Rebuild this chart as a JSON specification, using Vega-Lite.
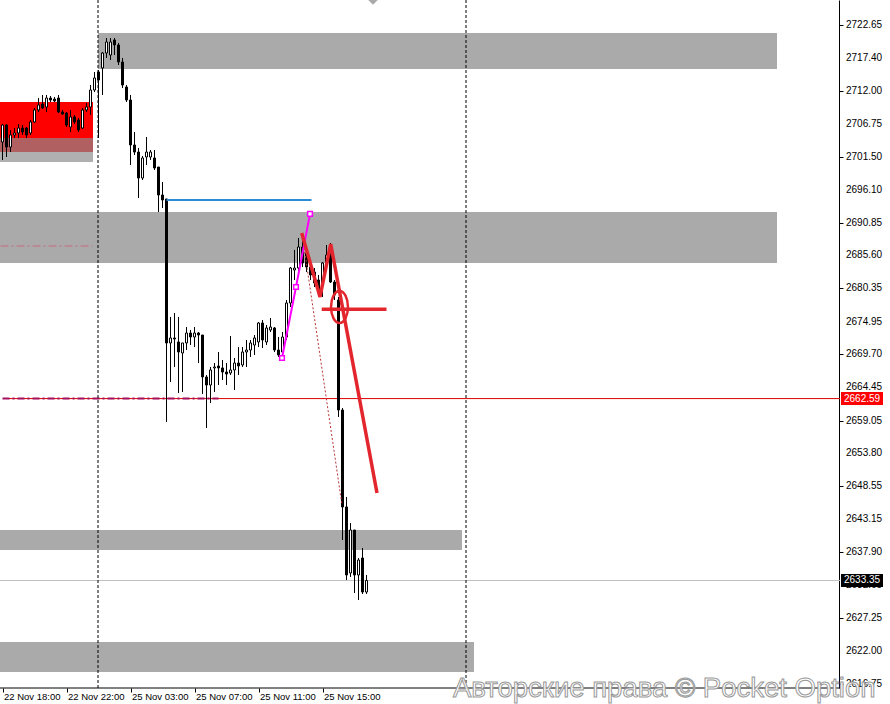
{
"$schema": "https://vega.github.io/schema/vega-lite/v6.json",
"width": 890, "height": 688, "padding": {"left":0,"top":0,"right":0,"bottom":16}, "autosize": {"type": "none"},
"background": "white",
"config": {"view": {"stroke": null}, "font": "Liberation Sans", "axis": {"labelOverlap": false}},
"resolve": {"scale": {"color": "independent"}},
"datasets": {
"candles": [
{"i":0,"o":2703.84,"h":2706.73,"l":2700.95,"c":2706.57},
{"i":1,"o":2706.57,"h":2706.73,"l":2701.43,"c":2703.04},
{"i":2,"o":2703.04,"h":2705.77,"l":2702.23,"c":2704.97},
{"i":3,"o":2704.97,"h":2706.09,"l":2704.48,"c":2705.29},
{"i":4,"o":2705.29,"h":2706.73,"l":2704.48,"c":2706.09},
{"i":5,"o":2706.09,"h":2706.57,"l":2704.97,"c":2705.45},
{"i":6,"o":2706.09,"h":2706.25,"l":2704.48,"c":2704.97},
{"i":7,"o":2705.29,"h":2707.38,"l":2704.97,"c":2707.06},
{"i":8,"o":2707.06,"h":2709.31,"l":2706.90,"c":2708.99},
{"i":9,"o":2708.99,"h":2710.91,"l":2708.66,"c":2709.79},
{"i":10,"o":2709.95,"h":2711.40,"l":2709.15,"c":2709.31},
{"i":11,"o":2709.47,"h":2711.40,"l":2708.66,"c":2710.91},
{"i":12,"o":2710.91,"h":2711.24,"l":2710.27,"c":2710.59},
{"i":13,"o":2710.75,"h":2711.08,"l":2710.27,"c":2710.43},
{"i":14,"o":2710.91,"h":2711.40,"l":2708.50,"c":2708.66},
{"i":15,"o":2708.66,"h":2708.99,"l":2708.18,"c":2708.34},
{"i":16,"o":2708.50,"h":2708.66,"l":2706.25,"c":2706.57},
{"i":17,"o":2706.25,"h":2708.99,"l":2705.45,"c":2707.86},
{"i":18,"o":2707.86,"h":2708.18,"l":2706.73,"c":2707.06},
{"i":19,"o":2707.38,"h":2707.70,"l":2705.45,"c":2705.77},
{"i":20,"o":2706.09,"h":2709.31,"l":2705.93,"c":2708.99},
{"i":21,"o":2708.99,"h":2710.11,"l":2708.66,"c":2709.47},
{"i":22,"o":2709.47,"h":2713.00,"l":2708.18,"c":2712.20},
{"i":23,"o":2712.20,"h":2715.09,"l":2711.88,"c":2714.13},
{"i":24,"o":2715.09,"h":2715.42,"l":2704.48,"c":2713.81},
{"i":25,"o":2715.74,"h":2718.31,"l":2711.40,"c":2718.15},
{"i":26,"o":2718.15,"h":2720.56,"l":2717.35,"c":2719.92},
{"i":27,"o":2717.83,"h":2720.56,"l":2717.02,"c":2719.92},
{"i":28,"o":2720.24,"h":2720.56,"l":2717.83,"c":2719.44},
{"i":29,"o":2719.44,"h":2719.76,"l":2716.22,"c":2716.70},
{"i":30,"o":2716.70,"h":2717.35,"l":2712.52,"c":2713.00},
{"i":31,"o":2712.68,"h":2713.00,"l":2710.27,"c":2710.59},
{"i":32,"o":2710.59,"h":2711.40,"l":2700.14,"c":2703.36},
{"i":33,"o":2703.36,"h":2705.45,"l":2701.75,"c":2702.23},
{"i":34,"o":2702.23,"h":2702.88,"l":2694.84,"c":2698.05},
{"i":35,"o":2698.05,"h":2701.59,"l":2697.73,"c":2701.27},
{"i":36,"o":2701.43,"h":2704.64,"l":2700.14,"c":2702.23},
{"i":37,"o":2701.43,"h":2702.55,"l":2700.95,"c":2702.23},
{"i":38,"o":2701.27,"h":2702.55,"l":2699.34,"c":2699.66},
{"i":39,"o":2699.82,"h":2699.82,"l":2692.59,"c":2695.32},
{"i":40,"o":2695.32,"h":2697.41,"l":2693.23,"c":2694.52},
{"i":41,"o":2694.68,"h":2694.68,"l":2658.83,"c":2671.53},
{"i":42,"o":2671.53,"h":2675.71,"l":2665.26,"c":2672.33},
{"i":43,"o":2672.33,"h":2676.35,"l":2667.67,"c":2672.17},
{"i":44,"o":2671.69,"h":2675.71,"l":2663.49,"c":2670.08},
{"i":45,"o":2669.92,"h":2671.53,"l":2663.65,"c":2671.53},
{"i":46,"o":2671.53,"h":2674.10,"l":2670.40,"c":2673.13},
{"i":47,"o":2673.13,"h":2673.62,"l":2671.20,"c":2672.49},
{"i":48,"o":2672.49,"h":2674.10,"l":2670.88,"c":2673.13},
{"i":49,"o":2673.13,"h":2673.29,"l":2668.31,"c":2672.81},
{"i":50,"o":2672.81,"h":2672.81,"l":2663.33,"c":2666.06},
{"i":51,"o":2666.06,"h":2666.38,"l":2657.86,"c":2664.77},
{"i":52,"o":2664.77,"h":2667.67,"l":2661.88,"c":2667.19},
{"i":53,"o":2667.51,"h":2668.31,"l":2663.65,"c":2667.67},
{"i":54,"o":2667.83,"h":2670.08,"l":2664.77,"c":2667.51},
{"i":55,"o":2667.51,"h":2668.79,"l":2665.58,"c":2666.86},
{"i":56,"o":2666.86,"h":2668.31,"l":2664.77,"c":2666.54},
{"i":57,"o":2666.70,"h":2672.65,"l":2666.38,"c":2667.19},
{"i":58,"o":2667.19,"h":2669.11,"l":2663.97,"c":2668.31},
{"i":59,"o":2668.31,"h":2670.88,"l":2666.38,"c":2667.83},
{"i":60,"o":2667.99,"h":2670.88,"l":2667.67,"c":2670.08},
{"i":61,"o":2670.08,"h":2672.01,"l":2667.67,"c":2670.40},
{"i":62,"o":2670.40,"h":2672.01,"l":2669.28,"c":2671.53},
{"i":63,"o":2671.20,"h":2672.81,"l":2669.60,"c":2672.33},
{"i":64,"o":2671.69,"h":2674.90,"l":2670.88,"c":2674.74},
{"i":65,"o":2674.74,"h":2675.22,"l":2670.72,"c":2672.01},
{"i":66,"o":2671.69,"h":2674.42,"l":2671.20,"c":2673.94},
{"i":67,"o":2673.62,"h":2675.55,"l":2673.29,"c":2674.10},
{"i":68,"o":2673.94,"h":2674.10,"l":2670.08,"c":2670.40},
{"i":69,"o":2670.40,"h":2672.49,"l":2669.28,"c":2669.60},
{"i":70,"o":2670.08,"h":2673.29,"l":2669.76,"c":2672.49},
{"i":71,"o":2672.49,"h":2678.44,"l":2672.01,"c":2677.96},
{"i":72,"o":2677.96,"h":2683.74,"l":2677.31,"c":2683.58},
{"i":73,"o":2683.26,"h":2686.48,"l":2681.65,"c":2683.58},
{"i":74,"o":2683.58,"h":2688.41,"l":2682.94,"c":2686.96},
{"i":75,"o":2686.96,"h":2689.21,"l":2683.74,"c":2684.39},
{"i":76,"o":2686.00,"h":2686.80,"l":2682.94,"c":2683.74},
{"i":77,"o":2683.74,"h":2684.55,"l":2681.65,"c":2682.46},
{"i":78,"o":2682.94,"h":2683.58,"l":2680.53,"c":2681.17},
{"i":79,"o":2681.65,"h":2682.46,"l":2679.56,"c":2680.05},
{"i":80,"o":2680.85,"h":2684.55,"l":2678.92,"c":2684.39},
{"i":81,"o":2684.39,"h":2687.28,"l":2683.91,"c":2685.67},
{"i":82,"o":2686.96,"h":2687.60,"l":2681.17,"c":2681.33},
{"i":83,"o":2681.33,"h":2681.65,"l":2678.44,"c":2679.24},
{"i":84,"o":2678.44,"h":2678.92,"l":2659.63,"c":2660.75},
{"i":85,"o":2660.75,"h":2661.08,"l":2639.85,"c":2645.16},
{"i":86,"o":2645.16,"h":2646.77,"l":2633.42,"c":2634.23},
{"i":87,"o":2634.55,"h":2642.59,"l":2633.91,"c":2641.46},
{"i":88,"o":2641.46,"h":2641.46,"l":2631.33,"c":2634.23},
{"i":89,"o":2634.23,"h":2636.96,"l":2630.21,"c":2636.64},
{"i":90,"o":2636.96,"h":2638.57,"l":2631.17,"c":2631.49},
{"i":91,"o":2631.49,"h":2634.23,"l":2631.17,"c":2633.35}
],
"zones": [
{"k":"g","x1":23.875,"x2":193.625,"y1":2721.36,"y2":2715.58},
{"k":"g","x1":-0.625,"x2":193.625,"y1":2692.59,"y2":2684.39},
{"k":"g","x1":-0.625,"x2":114.875,"y1":2641.46,"y2":2638.25},
{"k":"g","x1":-0.625,"x2":117.875,"y1":2623.46,"y2":2618.63},
{"k":"r","x1":-0.625,"x2":22.625,"y1":2710.27,"y2":2704.48},
{"k":"m","x1":-0.625,"x2":22.625,"y1":2704.48,"y2":2702.23},
{"k":"lg","x1":-0.625,"x2":22.625,"y1":2702.23,"y2":2700.63}
],
"levels": [
{"k":"red","x1":1.5,"x2":209.4,"p":2662.59},
{"k":"gray","x1":-0.625,"x2":209.4,"p":2633.35}
],
"ylabels": [
{"p":2722.65,"t":"2722.65"},{"p":2717.40,"t":"2717.40"},{"p":2712.00,"t":"2712.00"},{"p":2706.75,"t":"2706.75"},
{"p":2701.50,"t":"2701.50"},{"p":2696.10,"t":"2696.10"},{"p":2690.85,"t":"2690.85"},{"p":2685.60,"t":"2685.60"},
{"p":2680.35,"t":"2680.35"},{"p":2674.95,"t":"2674.95"},{"p":2669.70,"t":"2669.70"},{"p":2664.45,"t":"2664.45"},
{"p":2659.05,"t":"2659.05"},{"p":2653.80,"t":"2653.80"},{"p":2648.55,"t":"2648.55"},{"p":2643.15,"t":"2643.15"},
{"p":2637.90,"t":"2637.90"},{"p":2632.65,"t":"2632.65"},{"p":2627.25,"t":"2627.25"},{"p":2622.00,"t":"2622.00"},
{"p":2616.75,"t":"2616.75"}
],
"purpleDash": [{"x1":0,"x2":54,"p":2662.59}],
"pinkDash": [{"x1":-0.5,"x2":22.5,"p":2687.12}],
"blue": [{"x1":41,"x2":77.25,"p":2694.52}],
"vlines": [{"i":23.875},{"i":115.875}],
"magenta": [{"i":69.875,"p":2669.11},{"i":73.375,"p":2680.53},{"i":76.875,"p":2692.28}],
"reddot": [{"i":75.125,"p":2688.08},{"i":84.875,"p":2645.48}],
"redzig": [{"n":0,"i":74.8,"p":2689.21},{"n":1,"i":79.375,"p":2678.92},{"n":2,"i":82.05,"p":2687.44},{"n":3,"i":93.625,"p":2647.41}],
"redh": [{"x1":79.8,"x2":96.0,"p":2676.95}],
"ellipse": [{"i":84.25,"p":2677.31}],
"tags": [
{"k":"red","x1":209.625,"x2":220.125,"y1":2663.64,"y2":2661.54,"xt":210.375,"p":2662.59,"t":"2662.59"},
{"k":"black","x1":209.625,"x2":220.125,"y1":2634.40,"y2":2632.30,"xt":210.375,"p":2633.35,"t":"2633.35"}
],
"bottom": [{"x1":-0.625,"x2":209.4,"p":2616.06}],
"watermark": [{"i":112.6,"p":2614.61,"t":"Авторские права © Pocket Option"}],
"topmark": [{"i":92.625,"p":2726.67}]
},
"layer": [
{"data":{"name":"zones"},"mark":{"type":"rect"},
 "encoding":{
  "x":{"field":"x1","type":"quantitative","title":null,"scale":{"domain":[-0.625,221.875],"nice":false,"zero":false,"padding":0},
   "axis":{"orient":"bottom","values":[0,16,32,48,64,80],
    "labelExpr":"datum.value==0?'22 Nov 18:00':datum.value==16?'22 Nov 22:00':datum.value==32?'25 Nov 03:00':datum.value==48?'25 Nov 07:00':datum.value==64?'25 Nov 11:00':'25 Nov 15:00'",
    "labelAlign":"left","labelOffset":1,"labelFont":"Liberation Sans","labelFontSize":9.5,"labelColor":"#000","tickColor":"#000","tickSize":4,"labelPadding":-1,"domain":false,"grid":false,"title":null,"labelFlush":false,"labelOverlap":false}},
  "x2":{"field":"x2"},
  "y":{"field":"y1","type":"quantitative","title":null,"scale":{"domain":[2616.06,2726.67],"nice":false,"zero":false,"padding":0},
   "axis":{"orient":"right","offset":-51,"values":[2722.65,2717.40,2712.00,2706.75,2701.50,2696.10,2690.85,2685.60,2680.35,2674.95,2669.70,2664.45,2659.05,2653.80,2648.55,2643.15,2637.90,2632.65,2627.25,2622.00,2616.75],
    "labels":false,"tickColor":"#000","domainColor":"#000","tickSize":4,"grid":false,"title":null}},
  "y2":{"field":"y2"},
  "color":{"field":"k","type":"nominal","scale":{"domain":["g","r","m","lg"],"range":["#aaaaaa","#ff0000","#b06060","#b0b0b0"]},"legend":null}
 }},
{"data":{"name":"ylabels"},"mark":{"type":"text","align":"left","baseline":"middle","font":"Liberation Sans","fontSize":10,"color":"#000000"},
 "encoding":{"x":{"datum":210.875,"type":"quantitative","title":null,"scale":{"domain":[-0.625,221.875],"nice":false,"zero":false,"padding":0}},
  "y":{"field":"p","type":"quantitative","title":null,"scale":{"domain":[2616.06,2726.67],"nice":false,"zero":false,"padding":0}},
  "text":{"field":"t"}}},
{"data":{"name":"pinkDash"},"mark":{"type":"rule","color":"#c86a80","strokeWidth":1,"strokeDash":[8,3,2,3]},
 "encoding":{"x":{"field":"x1","type":"quantitative","title":null,"scale":{"domain":[-0.625,221.875],"nice":false,"zero":false,"padding":0}},"x2":{"field":"x2"},
  "y":{"field":"p","type":"quantitative","title":null,"scale":{"domain":[2616.06,2726.67],"nice":false,"zero":false,"padding":0}}}},
{"data":{"name":"levels"},"mark":{"type":"rule","strokeWidth":1},
 "encoding":{"x":{"field":"x1","type":"quantitative","title":null,"scale":{"domain":[-0.625,221.875],"nice":false,"zero":false,"padding":0}},"x2":{"field":"x2"},
  "y":{"field":"p","type":"quantitative","title":null,"scale":{"domain":[2616.06,2726.67],"nice":false,"zero":false,"padding":0}},
  "color":{"field":"k","type":"nominal","scale":{"domain":["red","gray"],"range":["#e00000","#c0c0c0"]},"legend":null}}},
{"data":{"name":"purpleDash"},"mark":{"type":"rule","color":"#a3105e","strokeWidth":2,"strokeDash":[7,3,2,3]},
 "encoding":{"x":{"field":"x1","type":"quantitative","title":null,"scale":{"domain":[-0.625,221.875],"nice":false,"zero":false,"padding":0}},"x2":{"field":"x2"},
  "y":{"field":"p","type":"quantitative","title":null,"scale":{"domain":[2616.06,2726.67],"nice":false,"zero":false,"padding":0}}}},
{"data":{"name":"bottom"},"mark":{"type":"rule","color":"#000","strokeWidth":1},
 "encoding":{"x":{"field":"x1","type":"quantitative","title":null,"scale":{"domain":[-0.625,221.875],"nice":false,"zero":false,"padding":0}},"x2":{"field":"x2"},
  "y":{"field":"p","type":"quantitative","title":null,"scale":{"domain":[2616.06,2726.67],"nice":false,"zero":false,"padding":0}}}},
{"data":{"name":"vlines"},"mark":{"type":"rule","color":"#000","strokeWidth":1,"strokeDash":[3,2]},
 "encoding":{"x":{"field":"i","type":"quantitative","title":null,"scale":{"domain":[-0.625,221.875],"nice":false,"zero":false,"padding":0}}}},
{"data":{"name":"candles"},"mark":{"type":"rule","color":"#000","strokeWidth":1},
 "encoding":{"x":{"field":"i","type":"quantitative","title":null,"scale":{"domain":[-0.625,221.875],"nice":false,"zero":false,"padding":0}},
  "y":{"field":"l","type":"quantitative","title":null,"scale":{"domain":[2616.06,2726.67],"nice":false,"zero":false,"padding":0}},"y2":{"field":"h"}}},
{"data":{"name":"candles"},"mark":{"type":"bar","size":2,"stroke":"#000","strokeWidth":1},
 "encoding":{"x":{"field":"i","type":"quantitative","title":null,"scale":{"domain":[-0.625,221.875],"nice":false,"zero":false,"padding":0}},
  "y":{"field":"o","type":"quantitative","title":null,"scale":{"domain":[2616.06,2726.67],"nice":false,"zero":false,"padding":0}},"y2":{"field":"c"},
  "color":{"condition":{"test":"datum.c >= datum.o","value":"#ffffff"},"value":"#000000"}}},
{"data":{"name":"blue"},"mark":{"type":"rule","color":"#2a8cd2","strokeWidth":2},
 "encoding":{"x":{"field":"x1","type":"quantitative","title":null,"scale":{"domain":[-0.625,221.875],"nice":false,"zero":false,"padding":0}},"x2":{"field":"x2"},
  "y":{"field":"p","type":"quantitative","title":null,"scale":{"domain":[2616.06,2726.67],"nice":false,"zero":false,"padding":0}}}},
{"data":{"name":"reddot"},"mark":{"type":"line","color":"#b83232","strokeWidth":1,"strokeDash":[2,2]},
 "encoding":{"x":{"field":"i","type":"quantitative","title":null,"scale":{"domain":[-0.625,221.875],"nice":false,"zero":false,"padding":0}},
  "y":{"field":"p","type":"quantitative","title":null,"scale":{"domain":[2616.06,2726.67],"nice":false,"zero":false,"padding":0}}}},
{"data":{"name":"magenta"},"mark":{"type":"line","color":"#ff00ff","strokeWidth":2,"point":{"shape":"square","size":22,"filled":true,"fill":"#ffffff","stroke":"#ff00ff","strokeWidth":1.5}},
 "encoding":{"x":{"field":"i","type":"quantitative","title":null,"scale":{"domain":[-0.625,221.875],"nice":false,"zero":false,"padding":0}},
  "y":{"field":"p","type":"quantitative","title":null,"scale":{"domain":[2616.06,2726.67],"nice":false,"zero":false,"padding":0}}}},
{"data":{"name":"redzig"},"mark":{"type":"line","color":"#e3262d","strokeWidth":3.5,"strokeJoin":"miter"},
 "encoding":{"x":{"field":"i","type":"quantitative","title":null,"scale":{"domain":[-0.625,221.875],"nice":false,"zero":false,"padding":0}},
  "y":{"field":"p","type":"quantitative","title":null,"scale":{"domain":[2616.06,2726.67],"nice":false,"zero":false,"padding":0}},
  "order":{"field":"n","type":"quantitative"}}},
{"data":{"name":"redh"},"mark":{"type":"rule","color":"#e3262d","strokeWidth":3.5},
 "encoding":{"x":{"field":"x1","type":"quantitative","title":null,"scale":{"domain":[-0.625,221.875],"nice":false,"zero":false,"padding":0}},"x2":{"field":"x2"},
  "y":{"field":"p","type":"quantitative","title":null,"scale":{"domain":[2616.06,2726.67],"nice":false,"zero":false,"padding":0}}}},
{"data":{"name":"ellipse"},"mark":{"type":"point","shape":"M -0.53 0 A 0.53 1 0 1 0 0.53 0 A 0.53 1 0 1 0 -0.53 0 Z","size":1024,"filled":false,"stroke":"#e3262d","strokeWidth":2.5,"opacity":1},
 "encoding":{"x":{"field":"i","type":"quantitative","title":null,"scale":{"domain":[-0.625,221.875],"nice":false,"zero":false,"padding":0}},
  "y":{"field":"p","type":"quantitative","title":null,"scale":{"domain":[2616.06,2726.67],"nice":false,"zero":false,"padding":0}}}},
{"data":{"name":"topmark"},"mark":{"type":"point","shape":"diamond","size":90,"filled":true,"fill":"#aaaaaa","opacity":1},
 "encoding":{"x":{"field":"i","type":"quantitative","title":null,"scale":{"domain":[-0.625,221.875],"nice":false,"zero":false,"padding":0}},
  "y":{"field":"p","type":"quantitative","title":null,"scale":{"domain":[2616.06,2726.67],"nice":false,"zero":false,"padding":0}}}},
{"data":{"name":"tags"},"mark":{"type":"rect"},
 "encoding":{"x":{"field":"x1","type":"quantitative","title":null,"scale":{"domain":[-0.625,221.875],"nice":false,"zero":false,"padding":0}},"x2":{"field":"x2"},
  "y":{"field":"y1","type":"quantitative","title":null,"scale":{"domain":[2616.06,2726.67],"nice":false,"zero":false,"padding":0}},"y2":{"field":"y2"},
  "color":{"field":"k","type":"nominal","scale":{"domain":["red","black"],"range":["#ff0000","#000000"]},"legend":null}}},
{"data":{"name":"tags"},"mark":{"type":"text","align":"left","baseline":"middle","font":"Liberation Sans","fontSize":10,"color":"#ffffff"},
 "encoding":{"x":{"field":"xt","type":"quantitative","title":null,"scale":{"domain":[-0.625,221.875],"nice":false,"zero":false,"padding":0}},
  "y":{"field":"p","type":"quantitative","title":null,"scale":{"domain":[2616.06,2726.67],"nice":false,"zero":false,"padding":0}},
  "text":{"field":"t"}}},
{"data":{"name":"watermark"},"mark":{"type":"text","align":"left","baseline":"alphabetic","font":"Liberation Sans","fontSize":27.5,"fill":"#ffffff","stroke":"#999999","strokeWidth":1},
 "encoding":{"x":{"field":"i","type":"quantitative","title":null,"scale":{"domain":[-0.625,221.875],"nice":false,"zero":false,"padding":0}},
  "y":{"field":"p","type":"quantitative","title":null,"scale":{"domain":[2616.06,2726.67],"nice":false,"zero":false,"padding":0}},
  "text":{"field":"t"}}}
]
}
